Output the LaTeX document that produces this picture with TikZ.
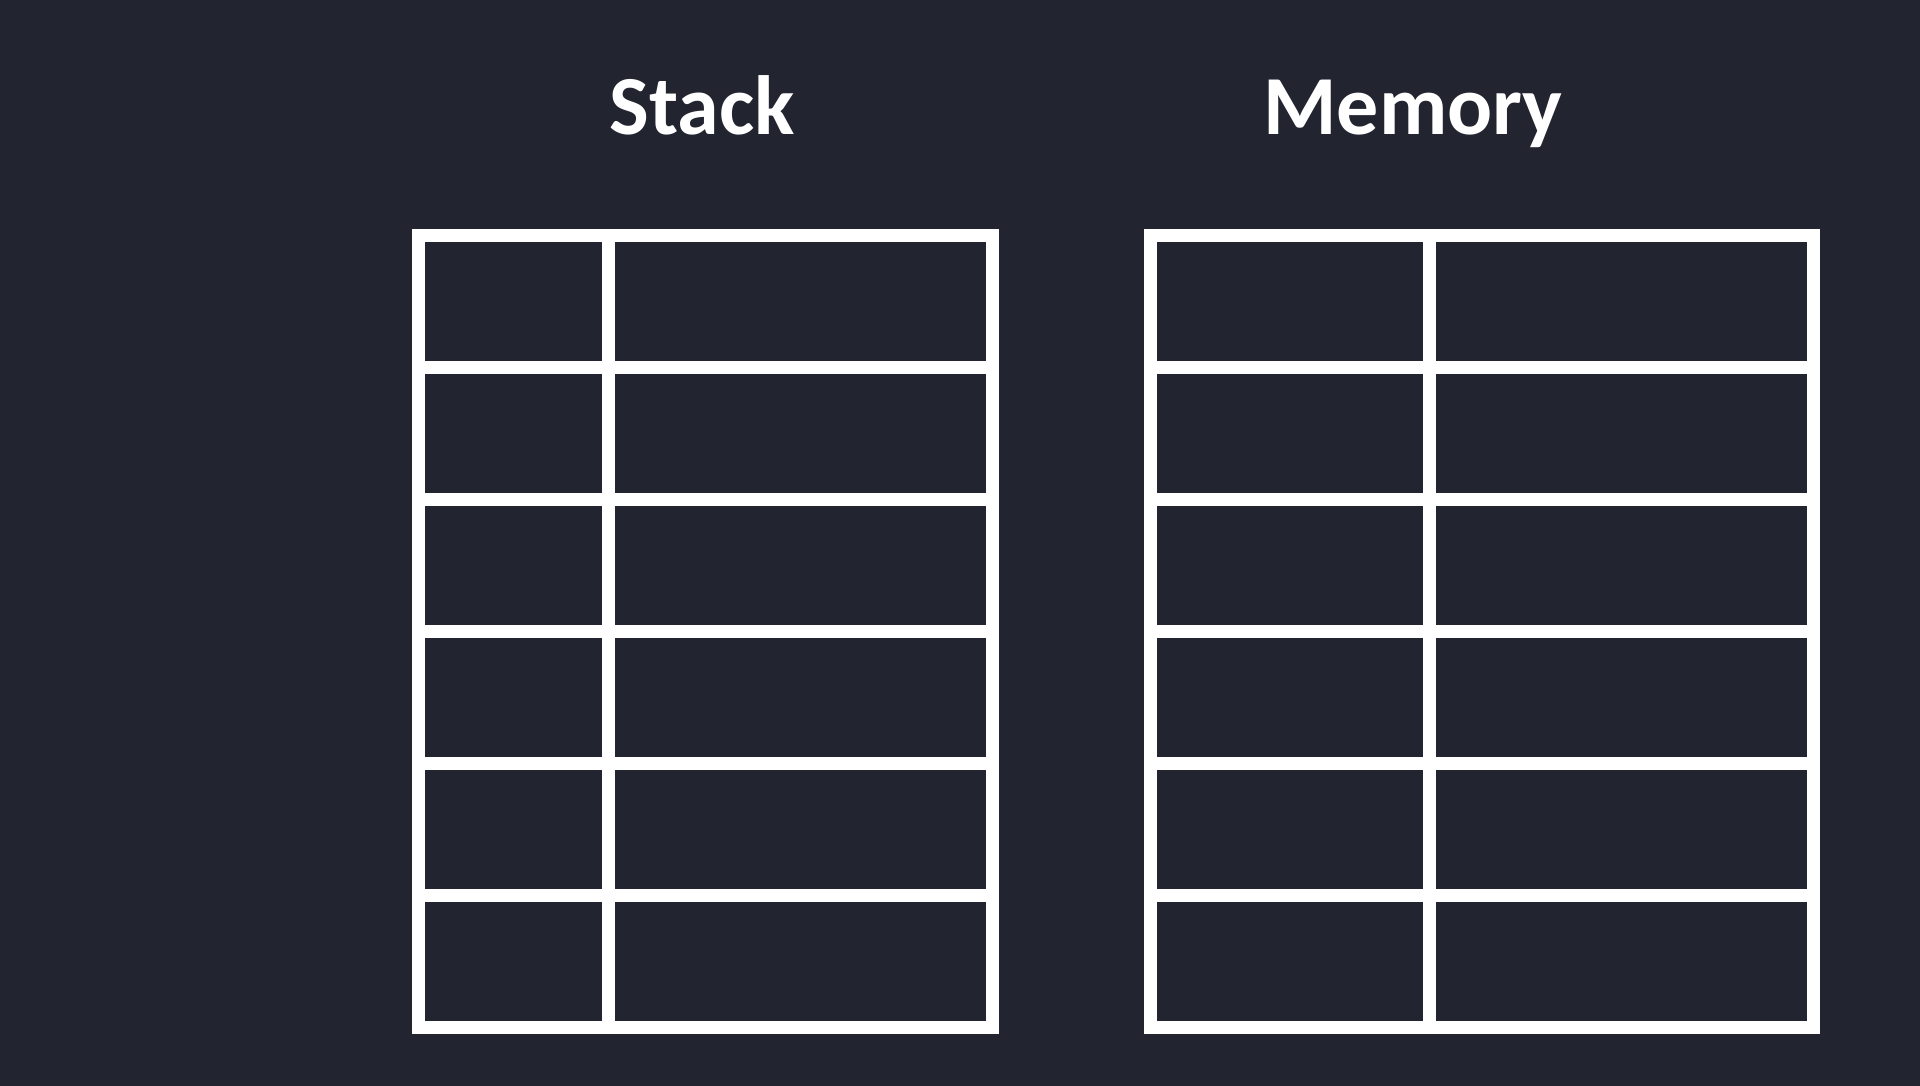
\documentclass[tikz,border=0pt]{standalone}
\usepackage{fontspec}
\setmainfont{Carlito}
\definecolor{bgcol}{RGB}{34,36,47}
\begin{document}
\begin{tikzpicture}[x=1pt,y=-1pt,
  gridline/.style={draw=white,line width=13pt,line join=miter},
  title/.style={text=white,font=\bfseries\fontsize{84}{100}\selectfont,anchor=base,inner sep=0pt}]
\fill[bgcol] (0,0) rectangle (1920,1086);
\useasboundingbox (0,0) rectangle (1920,1086);
% titles
\node[title] (stackT) at (702,135) {Stack};
\node[title] (memT) at (1413,135) {Memory};
% stack table
\draw[gridline] (418,235.5) rectangle (992,1027);
\draw[gridline] (608,235.5) -- (608,1027);
\foreach \y in {367.4,499.3,631.3,763.2,895.1}
  \draw[gridline] (418,\y) -- (992,\y);
% memory table
\draw[gridline] (1150,235.5) rectangle (1813,1027);
\draw[gridline] (1429,235.5) -- (1429,1027);
\foreach \y in {367.4,499.3,631.3,763.2,895.1}
  \draw[gridline] (1150,\y) -- (1813,\y);
\end{tikzpicture}
\end{document}
